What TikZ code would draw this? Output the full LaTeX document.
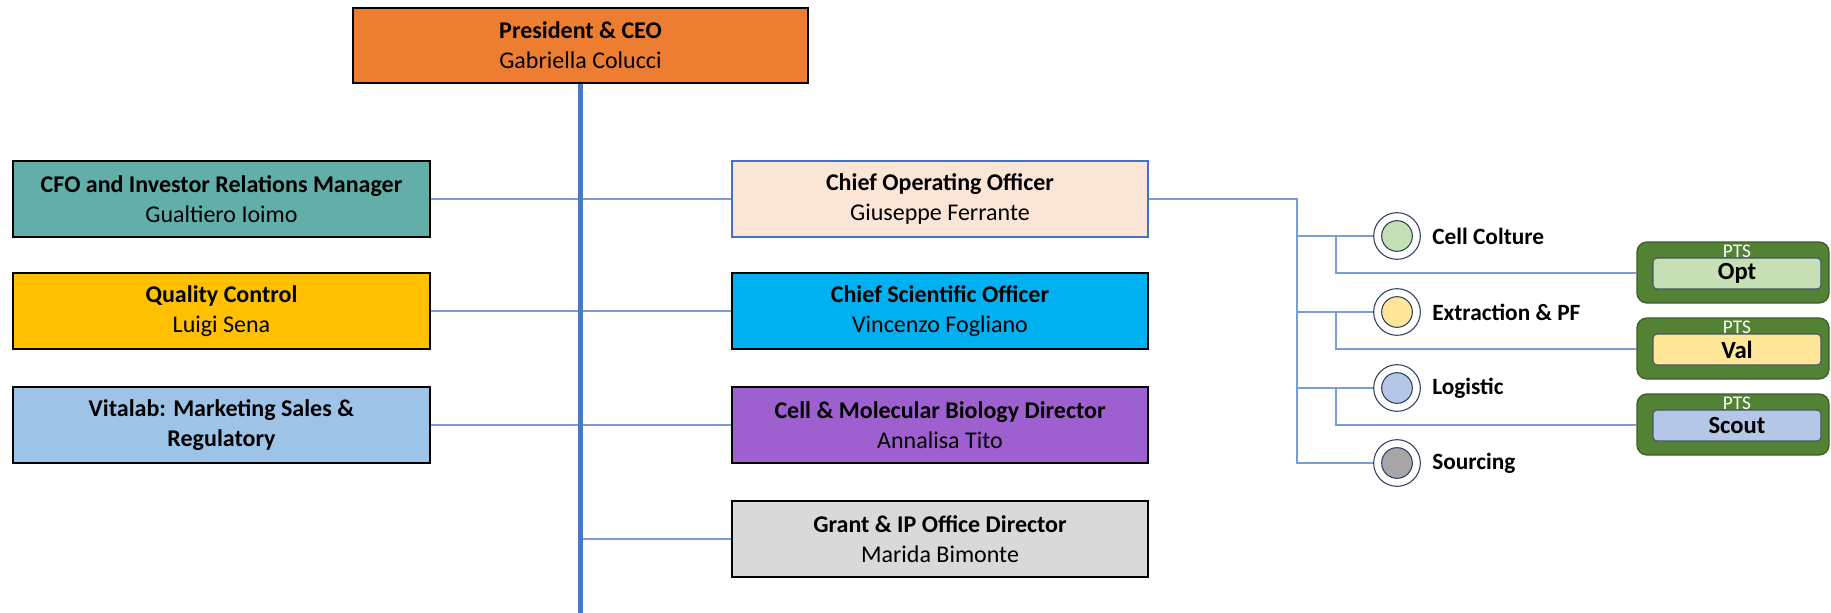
\documentclass[tikz,border=0pt]{standalone}
\usepackage{fontspec}
\setmainfont{Carlito}
\definecolor{ceoC}{HTML}{ED7D31}
\definecolor{cfoC}{HTML}{62AEA9}
\definecolor{qcC}{HTML}{FFC000}
\definecolor{vitC}{HTML}{9DC3E6}
\definecolor{cooC}{HTML}{FBE5D6}
\definecolor{cooB}{HTML}{4472C4}
\definecolor{csoC}{HTML}{00B0F0}
\definecolor{cmbC}{HTML}{9E5FCF}
\definecolor{grantC}{HTML}{D9D9D9}
\definecolor{lineC}{HTML}{7A9DD8}
\definecolor{trunkC}{HTML}{4A78C8}
\definecolor{circB}{HTML}{2F3F5F}
\definecolor{gC}{HTML}{C5E0B4}
\definecolor{yC}{HTML}{FFE699}
\definecolor{bC}{HTML}{B4C7E7}
\definecolor{sC}{HTML}{A6A6A6}
\definecolor{ptsC}{HTML}{548235}
\definecolor{ptsB}{HTML}{3B5E25}
\definecolor{innerB}{HTML}{44546A}
\begin{document}
\begin{tikzpicture}[x=0.75pt,y=-0.75pt,
  orgbox/.style={rectangle,draw=black,line width=1.6pt,align=center,inner sep=0pt,
    font=\fontsize{18}{22.5}\selectfont},
  leftbox/.style={orgbox,minimum width=312.75pt,minimum height=57pt},
  rightbox/.style={orgbox,minimum width=312pt,minimum height=57pt},
  conn/.style={draw=lineC,line width=1.5pt},
  outerc/.style={circle,draw=circB,line width=0.8pt,fill=white,minimum size=35pt,inner sep=0pt},
  innerc/.style={circle,draw=circB,line width=0.8pt,minimum size=23pt,inner sep=0pt},
  lbl/.style={anchor=west,inner sep=0pt,font=\fontsize{17.5}{20}\selectfont\bfseries},
  ptsbox/.style={rectangle,rounded corners=7.5pt,draw=ptsB,line width=1pt,fill=ptsC,
    minimum width=144pt,minimum height=45.75pt,inner sep=0pt},
  ptsinner/.style={rectangle,rounded corners=3pt,draw=innerB,line width=0.8pt,
    minimum width=126pt,minimum height=23.25pt,inner sep=0pt,
    font=\fontsize{18.5}{20}\selectfont\bfseries},
  ptslbl/.style={anchor=base,inner sep=0pt,text=white,font=\fontsize{14.5}{16}\selectfont}
]
\useasboundingbox (0,0) rectangle (1831,613);

% main boxes
\node[orgbox,fill=ceoC,minimum width=341.25pt,minimum height=56.25pt] (ceo) at (580.5,45.5)
  {\textbf{President \& CEO}\\Gabriella Colucci};
\node[leftbox,fill=cfoC] (cfo) at (221.5,199) {\textbf{CFO and Investor Relations Manager}\\Gualtiero Ioimo};
\node[leftbox,fill=qcC] (qc) at (221.5,311) {\textbf{Quality Control}\\Luigi Sena};
\node[leftbox,fill=vitC] (vit) at (221.5,425) {\textbf{Vitalab: Marketing Sales \&}\\\textbf{Regulatory}};
\node[rightbox,fill=cooC,draw=cooB] (coo) at (940,199) {\textbf{Chief Operating Officer}\\Giuseppe Ferrante};
\node[rightbox,fill=csoC] (cso) at (940,311) {\textbf{Chief Scientific Officer}\\Vincenzo Fogliano};
\node[rightbox,fill=cmbC] (cmb) at (940,425) {\textbf{Cell \& Molecular Biology Director}\\Annalisa Tito};
\node[rightbox,fill=grantC] (grant) at (940,539) {\textbf{Grant \& IP Office Director}\\Marida Bimonte};

% circles
\node[outerc] (c1) at (1397,236) {};
\node[innerc,fill=gC] (c1i) at (c1) {};
\node[outerc] (c2) at (1397,312) {};
\node[innerc,fill=yC] (c2i) at (c2) {};
\node[outerc] (c3) at (1397,388) {};
\node[innerc,fill=bC] (c3i) at (c3) {};
\node[outerc] (c4) at (1397,463) {};
\node[innerc,fill=sC] (c4i) at (c4) {};
\node[lbl] (l1) at (1432,236) {Cell Colture};
\node[lbl] (l2) at (1432,312) {Extraction \& PF};
\node[lbl] (l3) at (1432,388) {Logistic};
\node[lbl] (l4) at (1432,463) {Sourcing};

% PTS boxes
\node[ptsbox] (p1) at (1733,272.5) {};
\node[ptsinner,fill=gC] (p1i) at (1737,273.5) {Opt};
\node[ptslbl] (p1t) at (1737,257) {PTS};
\node[ptsbox] (p2) at (1733,348.5) {};
\node[ptsinner,fill=yC] (p2i) at (1737,349.5) {Val};
\node[ptslbl] (p2t) at (1737,333) {PTS};
\node[ptsbox] (p3) at (1733,424.5) {};
\node[ptsinner,fill=bC] (p3i) at (1737,425.5) {Scout};
\node[ptslbl] (p3t) at (1737,409) {PTS};

% coordinates
\coordinate (bx) at (1297,199);
\coordinate (sx) at (1336,236);
\coordinate (trunkend) at (580.5,613);

% connectors
\draw[conn] (cfo.east) -- (coo.west);
\draw[conn] (qc.east) -- (cso.west);
\draw[conn] (vit.east) -- (cmb.west);
\draw[conn] (grant.west) -- (grant.west -| trunkend);
\draw[conn] (coo.east) -- (bx) -- (bx |- c4.west) -- (c4.west);
\draw[conn] (bx |- c1.west) -- (c1.west);
\draw[conn] (bx |- c2.west) -- (c2.west);
\draw[conn] (bx |- c3.west) -- (c3.west);
\draw[conn] (sx |- c1.west) -- (sx |- p1.west) -- (p1.west);
\draw[conn] (sx |- c2.west) -- (sx |- p2.west) -- (p2.west);
\draw[conn] (sx |- c3.west) -- (sx |- p3.west) -- (p3.west);
\draw[draw=trunkC,line width=3.75pt] (ceo.south) -- (trunkend);
\end{tikzpicture}
\end{document}
